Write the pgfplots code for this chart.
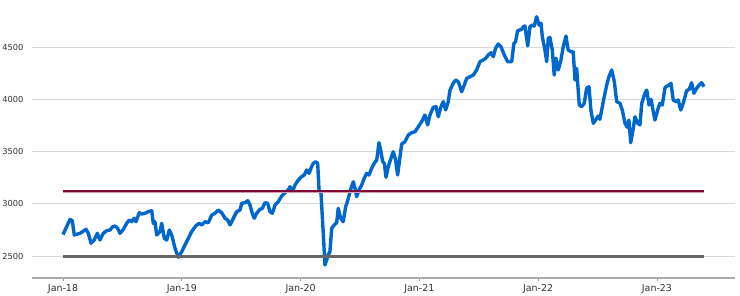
\documentclass[border=0pt]{standalone}
\usepackage{pgfplots}
\pgfplotsset{compat=1.18}
\usepackage{fontspec}
\setmainfont{DejaVu Sans}

\definecolor{lineblue}{HTML}{0068CC}
\definecolor{maroon}{HTML}{7A0A36}
\definecolor{maroonedge}{HTML}{D49AAE}
\definecolor{avggray}{HTML}{666666}
\definecolor{labelgray}{HTML}{333333}

\begin{document}
\begin{tikzpicture}
\begin{axis}[
    scale only axis,
    width=703bp, height=278bp,
    xmin=2017.739, xmax=2023.657,
    ymin=2289.5, ymax=4949.7,
    axis lines*=left,
    y axis line style={draw=none},
    x axis line style={draw=gray!65, line width=1.6bp},
    xtick={2018,2019,2020,2021,2022,2023},
    xticklabels={Jan-18,Jan-19,Jan-20,Jan-21,Jan-22,Jan-23},
    ytick={2500,3000,3500,4000,4500},
    tick align=outside,
    major tick length=3bp,
    xtick style={draw=gray!80, line width=0.6bp},
    ytick style={draw=none},
    ymajorgrids=true,
    grid style={draw=gray!30, line width=0.8bp},
    /pgf/number format/assume math mode=true,
    /pgf/number format/1000 sep={},
    yticklabel style={font=\fontsize{8.3}{9}\selectfont, text=labelgray, xshift=-2bp},
    xticklabel style={font=\fontsize{9.5}{11}\selectfont, text=labelgray},
]

\addplot[color=lineblue, line width=3.4bp, line join=round] coordinates {
(2018.000,2705)(2018.059,2850)(2018.078,2838)(2018.095,2701)(2018.143,2717)
(2018.194,2755)(2018.213,2717)(2018.236,2622)(2018.263,2653)(2018.289,2717)
(2018.311,2653)(2018.339,2717)(2018.368,2742)(2018.396,2749)(2018.418,2780)
(2018.438,2787)(2018.460,2765)(2018.480,2717)(2018.508,2755)(2018.536,2813)
(2018.558,2844)(2018.578,2828)(2018.598,2861)(2018.614,2828)(2018.642,2914)
(2018.662,2902)(2018.690,2909)(2018.718,2924)(2018.747,2933)(2018.760,2813)
(2018.774,2828)(2018.789,2701)(2018.816,2733)(2018.831,2813)(2018.853,2669)
(2018.873,2653)(2018.895,2749)(2018.915,2701)(2018.943,2574)(2018.971,2488)
(2018.999,2541)(2019.027,2605)(2019.055,2669)(2019.083,2733)(2019.117,2787)
(2019.145,2813)(2019.168,2797)(2019.195,2828)(2019.223,2819)(2019.252,2892)
(2019.279,2909)(2019.307,2940)(2019.336,2914)(2019.364,2861)(2019.386,2844)
(2019.406,2797)(2019.434,2861)(2019.462,2924)(2019.490,2940)(2019.504,3004)
(2019.532,3010)(2019.555,3029)(2019.574,2988)(2019.593,2909)(2019.610,2861)
(2019.630,2909)(2019.658,2947)(2019.678,2956)(2019.700,3010)(2019.723,3004)
(2019.742,2924)(2019.762,2909)(2019.785,2988)(2019.812,3020)(2019.841,3074)
(2019.869,3106)(2019.896,3132)(2019.911,3163)(2019.930,3115)(2019.953,3179)
(2019.981,3227)(2020.009,3259)(2020.031,3275)(2020.051,3323)(2020.071,3291)
(2020.093,3355)(2020.107,3387)(2020.127,3402)(2020.144,3387)(2020.155,3138)
(2020.172,3100)(2020.183,2876)(2020.194,2653)(2020.205,2414)(2020.219,2462)
(2020.233,2510)(2020.247,2541)(2020.262,2765)(2020.284,2797)(2020.304,2819)
(2020.317,2956)(2020.338,2861)(2020.359,2828)(2020.380,2972)(2020.402,3052)
(2020.424,3148)(2020.444,3211)(2020.458,3148)(2020.472,3067)(2020.492,3132)
(2020.514,3179)(2020.536,3244)(2020.556,3291)(2020.576,3275)(2020.598,3339)
(2020.620,3387)(2020.641,3419)(2020.660,3584)(2020.677,3498)(2020.691,3402)
(2020.705,3387)(2020.719,3253)(2020.738,3355)(2020.761,3435)(2020.780,3498)
(2020.800,3419)(2020.817,3275)(2020.837,3450)(2020.851,3571)(2020.879,3594)
(2020.907,3658)(2020.935,3680)(2020.963,3689)(2020.991,3737)(2021.019,3785)
(2021.047,3849)(2021.070,3754)(2021.089,3849)(2021.117,3923)(2021.140,3929)
(2021.159,3833)(2021.182,3929)(2021.201,3977)(2021.221,3897)(2021.243,3977)
(2021.258,4088)(2021.285,4153)(2021.306,4184)(2021.328,4168)(2021.356,4072)
(2021.378,4136)(2021.398,4200)(2021.426,4216)(2021.454,4232)(2021.482,4280)
(2021.510,4359)(2021.538,4376)(2021.558,4392)(2021.580,4423)(2021.603,4445)
(2021.622,4407)(2021.642,4488)(2021.664,4529)(2021.687,4503)(2021.715,4423)
(2021.743,4359)(2021.777,4359)(2021.796,4535)(2021.810,4551)(2021.827,4656)
(2021.847,4663)(2021.861,4669)(2021.875,4694)(2021.889,4701)(2021.912,4510)
(2021.931,4694)(2021.950,4710)(2021.967,4701)(2021.987,4790)(2022.007,4710)
(2022.024,4727)(2022.035,4598)(2022.057,4471)(2022.072,4359)(2022.085,4583)
(2022.099,4592)(2022.119,4471)(2022.135,4232)(2022.150,4392)(2022.169,4280)
(2022.192,4376)(2022.211,4503)(2022.234,4605)(2022.253,4471)(2022.276,4455)
(2022.295,4455)(2022.310,4184)(2022.324,4296)(2022.346,3945)(2022.366,3929)
(2022.388,3961)(2022.408,4105)(2022.428,4120)(2022.444,3897)(2022.464,3770)
(2022.484,3801)(2022.506,3840)(2022.520,3808)(2022.548,3977)(2022.577,4136)
(2022.596,4216)(2022.619,4280)(2022.641,4168)(2022.661,3977)(2022.689,3961)
(2022.708,3897)(2022.731,3770)(2022.750,3732)(2022.764,3801)(2022.779,3584)
(2022.801,3722)(2022.815,3833)(2022.838,3770)(2022.857,3754)(2022.872,3961)
(2022.899,4057)(2022.914,4088)(2022.933,3945)(2022.950,3999)(2022.969,3881)
(2022.983,3801)(2023.006,3897)(2023.025,3961)(2023.045,3945)(2023.067,4105)
(2023.076,4120)(2023.103,4136)(2023.118,4153)(2023.137,3993)(2023.160,3977)
(2023.179,3993)(2023.200,3897)(2023.221,3961)(2023.250,4082)(2023.272,4095)
(2023.292,4158)(2023.311,4057)(2023.334,4105)(2023.356,4136)(2023.376,4158)
(2023.396,4120)
};

\addplot[color=maroonedge, line width=3bp] coordinates {(2018.000,3122)(2023.397,3122)};
\addplot[color=maroon, line width=1.5bp] coordinates {(2018.000,3122)(2023.397,3122)};
\addplot[color=avggray, line width=3bp] coordinates {(2018.000,2497)(2023.397,2497)};

\coordinate (sw) at (rel axis cs:0,0);
\end{axis}
\pgfresetboundingbox
\path ([shift={(-32bp,-18bp)}]sw) rectangle ++(740bp,296bp);
\end{tikzpicture}
\end{document}
